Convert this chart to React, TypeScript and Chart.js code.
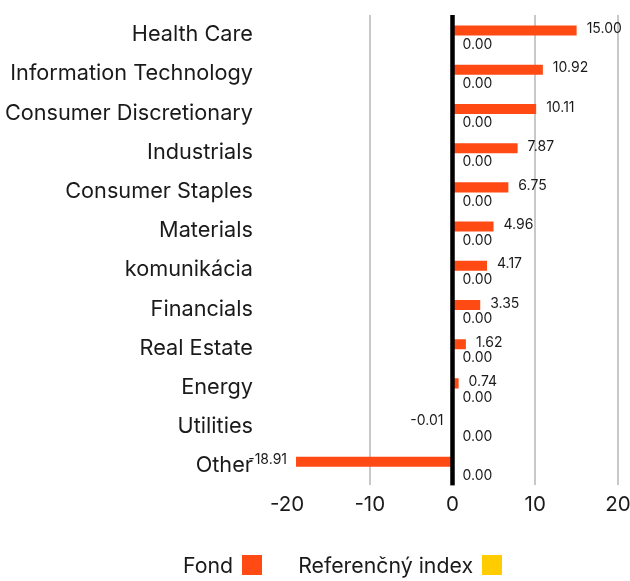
import React, { useEffect, useRef } from "react";
import { Chart, registerables } from "chart.js";
Chart.register(...registerables);

const categories = [
  "Health Care",
  "Information Technology",
  "Consumer Discretionary",
  "Industrials",
  "Consumer Staples",
  "Materials",
  "komunikácia",
  "Financials",
  "Real Estate",
  "Energy",
  "Utilities",
  "Other",
];
const fondValues = [15.0, 10.92, 10.11, 7.87, 6.75, 4.96, 4.17, 3.35, 1.62, 0.74, -0.01, -18.91];
const indexValues = [0, 0, 0, 0, 0, 0, 0, 0, 0, 0, 0, 0];
const seriesNames = ["Fond", "Referenčný index"];
const seriesColors = ["#ff4a14", "#ffcc00"];
const xMin = -20;
const xMax = 20;
const xStep = 10;

const FONT = "Inter, 'Open Sans', sans-serif";
const TEXT = "#1a1a1a";

export default function App() {
  const ref = useRef<HTMLCanvasElement>(null);
  useEffect(() => {
    if (!ref.current) return;
    const overlay = {
      id: "overlay",
      afterDatasetsDraw(chart: any) {
        const ctx = chart.ctx;
        const area = chart.chartArea;
        const x0 = chart.scales.x.getPixelForValue(0);
        ctx.save();
        ctx.fillStyle = "#000";
        ctx.fillRect(x0 - 2.25, area.top, 4.5, area.bottom - area.top);
        ctx.font = `14px ${FONT}`;
        ctx.fillStyle = TEXT;
        ctx.textBaseline = "middle";
        chart.data.datasets.forEach((ds: any, di: number) => {
          const meta = chart.getDatasetMeta(di);
          meta.data.forEach((bar: any, i: number) => {
            const v = ds.data[i] as number;
            const { x, y } = bar.getProps(["x", "y"], true);
            const neg = v < 0;
            ctx.textAlign = neg ? "right" : "left";
            const tx = neg ? x - 9 : x + 10;
            const ty = di === 0 ? y - 1.5 : y + 6;
            ctx.fillText(v.toFixed(2), tx, ty);
          });
        });
        ctx.restore();
      },
    };
    const chart = new Chart(ref.current, {
      type: "bar",
      data: {
        labels: categories,
        datasets: [
          {
            label: seriesNames[0],
            data: fondValues,
            backgroundColor: seriesColors[0],
            categoryPercentage: 0.41,
            barPercentage: 1.25,
          },
          {
            label: seriesNames[1],
            data: indexValues,
            backgroundColor: seriesColors[1],
            categoryPercentage: 0.41,
            barPercentage: 1.25,
          },
        ],
      },
      options: {
        indexAxis: "y",
        responsive: false,
        animation: false,
        devicePixelRatio: 1,
        layout: { padding: { top: 15, bottom: 57, left: 0, right: 12 } },
        plugins: {
          legend: { display: false },
          tooltip: { enabled: false },
        },
        scales: {
          x: {
            min: xMin,
            max: xMax,
            ticks: {
              stepSize: xStep,
              font: { family: FONT, size: 20.5 },
              color: TEXT,
              padding: 7,
            },
            grid: {
              drawTicks: false,
              lineWidth: 2,
              color: (c: any) =>
                c.tick && (c.tick.value === 0 || c.tick.value === xMin) ? "rgba(0,0,0,0)" : "#c8c8c8",
            },
            border: { display: false },
            afterFit: (s: any) => {
              s.paddingLeft = 0;
              s.paddingRight = 0;
            },
          },
          y: {
            grid: { display: false, drawTicks: false },
            border: { display: false },
            ticks: {
              font: { family: FONT, size: 21.7 },
              color: TEXT,
              padding: 34,
            },
            afterFit: (s: any) => {
              s.width = 287;
              s.paddingTop = 0;
              s.paddingBottom = 0;
            },
          },
        },
      },
      plugins: [overlay],
    });
    return () => chart.destroy();
  }, []);

  return (
    <div style={{ position: "absolute", left: 0, top: 0, width: 630, height: 581 }}>
      <canvas ref={ref} width={630} height={581} style={{ display: "block" }} />
      <div
        style={{
          position: "absolute",
          left: 183,
          top: 553,
          display: "flex",
          alignItems: "center",
          gap: 36,
          fontFamily: FONT,
          fontSize: 21.3,
          color: TEXT,
          lineHeight: "24px",
        }}
      >
        {seriesNames.map((n, i) => (
          <div key={n} style={{ display: "flex", alignItems: "center", gap: 9 }}>
            <span>{n}</span>
            <span style={{ width: 20, height: 20, background: seriesColors[i], display: "inline-block" }} />
          </div>
        ))}
      </div>
    </div>
  );
}
